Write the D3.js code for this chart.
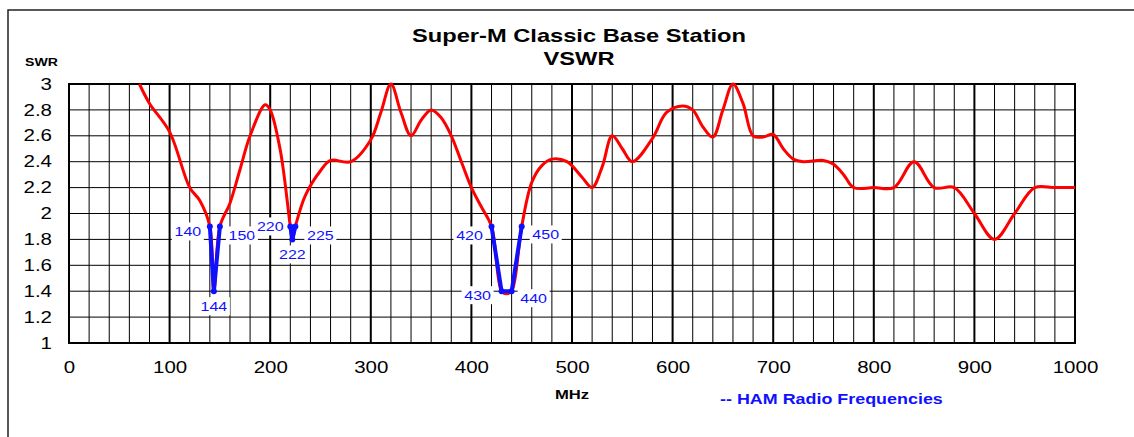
<!DOCTYPE html>
<html>
<head>
<meta charset="utf-8">
<script src="https://cdn.jsdelivr.net/npm/d3@7"></script>
<style>
  body { margin: 0; background: #fff; }
  text { font-family: "Liberation Sans", Arial, sans-serif; }
</style>
</head>
<body>
<svg id="canvas" width="1134" height="437"></svg>
<script>
// measured swr curve (MHz, swr)
var freqs = [70, 80, 100, 120, 130, 140, 144, 150, 160, 170, 180, 195, 200, 210, 220, 222, 225, 235, 250, 260, 280, 300, 310, 320, 330, 340, 350, 360, 370, 380, 390, 400, 410, 420, 430, 435, 440, 450, 460, 470, 480, 495, 510, 520, 530, 540, 550, 560, 580, 594, 610, 620, 630, 640, 650, 660, 670, 680, 690, 700, 710, 720, 730, 750, 760, 770, 780, 800, 820, 840, 860, 880, 900, 920, 940, 960, 980, 1000];
var swr = [3.0, 2.85, 2.63, 2.2, 2.1, 1.9, 1.4, 1.9, 2.08, 2.34, 2.6, 2.84, 2.8, 2.49, 1.9, 1.8, 1.9, 2.14, 2.33, 2.41, 2.4, 2.57, 2.78, 3.0, 2.78, 2.6, 2.72, 2.8, 2.74, 2.6, 2.4, 2.2, 2.05, 1.9, 1.4, 1.38, 1.4, 1.9, 2.24, 2.37, 2.42, 2.4, 2.28, 2.2, 2.36, 2.6, 2.5, 2.4, 2.58, 2.78, 2.83, 2.8, 2.67, 2.59, 2.8, 3.0, 2.85, 2.6, 2.59, 2.61, 2.5, 2.42, 2.4, 2.41, 2.38, 2.3, 2.2, 2.2, 2.2, 2.4, 2.2, 2.2, 2.0, 1.8, 2.0, 2.2, 2.2, 2.2];

// ham bands (marked points)
var hamBands = [
  [140, 144, 150],
  [220, 222, 225],
  [420, 430, 440, 450]
];
var hamSwr = [
  [1.9, 1.4, 1.9],
  [1.9, 1.8, 1.9],
  [1.9, 1.4, 1.4, 1.9]
];
// label offsets for each marked point
var hamLabelPos = [
  [[-22, 5], [0, 15], [22, 9]],
  [[-20, 0], [0, 15], [25, 9]],
  [[-22, 9], [-24, 4], [22, 7], [24, 8]]
];

var yTicks = [1, 1.2, 1.4, 1.6, 1.8, 2, 2.2, 2.4, 2.6, 2.8, 3];
var xTicks = [0, 100, 200, 300, 400, 500, 600, 700, 800, 900, 1000];

var canvas = d3.select('#canvas');
var sx = 1.28; // the original's text is drawn wide

// put a horizontally stretched text at x,y
function wideText(x, y, str, size, anchor) {
  return canvas.append('text')
    .attr('transform', 'translate(' + x + ',' + y + ') scale(' + sx + ',1)')
    .attr('text-anchor', anchor || 'start')
    .style('font-size', size + 'px')
    .text(str);
}

// outer frame (right/bottom run off the picture)
canvas.append('rect')
  .attr('x', 8).attr('y', 10)
  .attr('width', 1140).attr('height', 440)
  .style('fill', 'none').style('stroke', '#222').style('stroke-width', 1.5);

var xScale = d3.scaleLinear().domain([0, 1000]).range([69, 1075]);
var yScale = d3.scaleLinear().domain([1, 3]).range([343, 84]);

// grid
var grid = canvas.append('g');
d3.range(0, 1001, 20).forEach(function(f) {
  grid.append('line')
    .attr('x1', xScale(f)).attr('x2', xScale(f))
    .attr('y1', yScale(1)).attr('y2', yScale(3))
    .style('stroke', '#000')
    .style('stroke-width', f % 100 === 0 ? 2 : 1);
});
yTicks.forEach(function(v) {
  grid.append('line')
    .attr('x1', xScale(0)).attr('x2', xScale(1000))
    .attr('y1', yScale(v)).attr('y2', yScale(v))
    .style('stroke', '#000').style('stroke-width', 1);
});
canvas.append('rect')
  .attr('x', xScale(0)).attr('y', yScale(3))
  .attr('width', xScale(1000) - xScale(0)).attr('height', yScale(1) - yScale(3))
  .style('fill', 'none').style('stroke', '#000').style('stroke-width', 2);

// axes labels
var yAxis = d3.axisLeft(yScale).tickValues(yTicks).tickSize(0).tickPadding(17)
  .tickFormat(function(d) { return String(d); });
var ya = canvas.append('g').attr('transform', 'translate(' + xScale(0) + ',0)').call(yAxis);
ya.select('.domain').remove();
ya.selectAll('text')
  .attr('x', -17 / sx)
  .attr('transform', 'scale(' + sx + ',1)')
  .style('font-size', '16px').style('fill', '#000')
  .style('font-family', '"Liberation Sans", Arial, sans-serif');

var xAxis = d3.axisBottom(xScale).tickValues(xTicks).tickSize(0).tickPadding(19)
  .tickFormat(function(d) { return String(d); });
var xa = canvas.append('g').attr('transform', 'translate(0,' + yScale(1) + ')').call(xAxis);
xa.select('.domain').remove();
xa.selectAll('text')
  .attr('transform', 'scale(' + sx + ',1)')
  .style('font-size', '16px').style('fill', '#000')
  .style('font-family', '"Liberation Sans", Arial, sans-serif');

// red curve
var pts = freqs.map(function(f, i) { return [f, swr[i]]; });
var line = d3.line()
  .x(function(d) { return xScale(d[0]); })
  .y(function(d) { return yScale(d[1]); })
  .curve(d3.curveCatmullRom.alpha(0.5));
canvas.append('path').datum(pts).attr('d', line)
  .style('fill', 'none').style('stroke', '#ff0000').style('stroke-width', 3)
  .style('stroke-linejoin', 'round');

// ham bands in blue
var blue = '#1010ff';
hamBands.forEach(function(band, b) {
  var bp = band.map(function(f, i) { return [f, hamSwr[b][i]]; });
  canvas.append('path').datum(bp)
    .attr('d', d3.line().x(function(d) { return xScale(d[0]); }).y(function(d) { return yScale(d[1]); }))
    .style('fill', 'none').style('stroke', blue).style('stroke-width', 4)
    .style('stroke-linejoin', 'round');
  canvas.selectAll(null).data(bp).enter().append('circle')
    .attr('cx', function(d) { return xScale(d[0]); })
    .attr('cy', function(d) { return yScale(d[1]); })
    .attr('r', 3).style('fill', blue);
  bp.forEach(function(d, i) {
    var off = hamLabelPos[b][i];
    var cx = xScale(d[0]) + off[0], cy = yScale(d[1]) + off[1];
    canvas.append('rect')
      .attr('x', cx - 16).attr('y', cy - 9).attr('width', 32).attr('height', 18)
      .style('fill', '#fff');
    wideText(cx, cy + 4.5, String(d[0]), 12.5, 'middle').style('fill', blue);
  });
});

// titles
wideText(579, 42, 'Super-M Classic Base Station', 18.5, 'middle').style('font-weight', 'bold');
wideText(579, 65, 'VSWR', 18.5, 'middle').style('font-weight', 'bold');
wideText(25, 66, 'SWR', 11, 'start').style('font-weight', 'bold');
wideText(572, 399, 'MHz', 13, 'middle').style('font-weight', 'bold');
wideText(720, 404, '-- HAM Radio Frequencies', 14, 'start')
  .style('font-weight', 'bold').style('fill', blue);
</script>
</body>
</html>
